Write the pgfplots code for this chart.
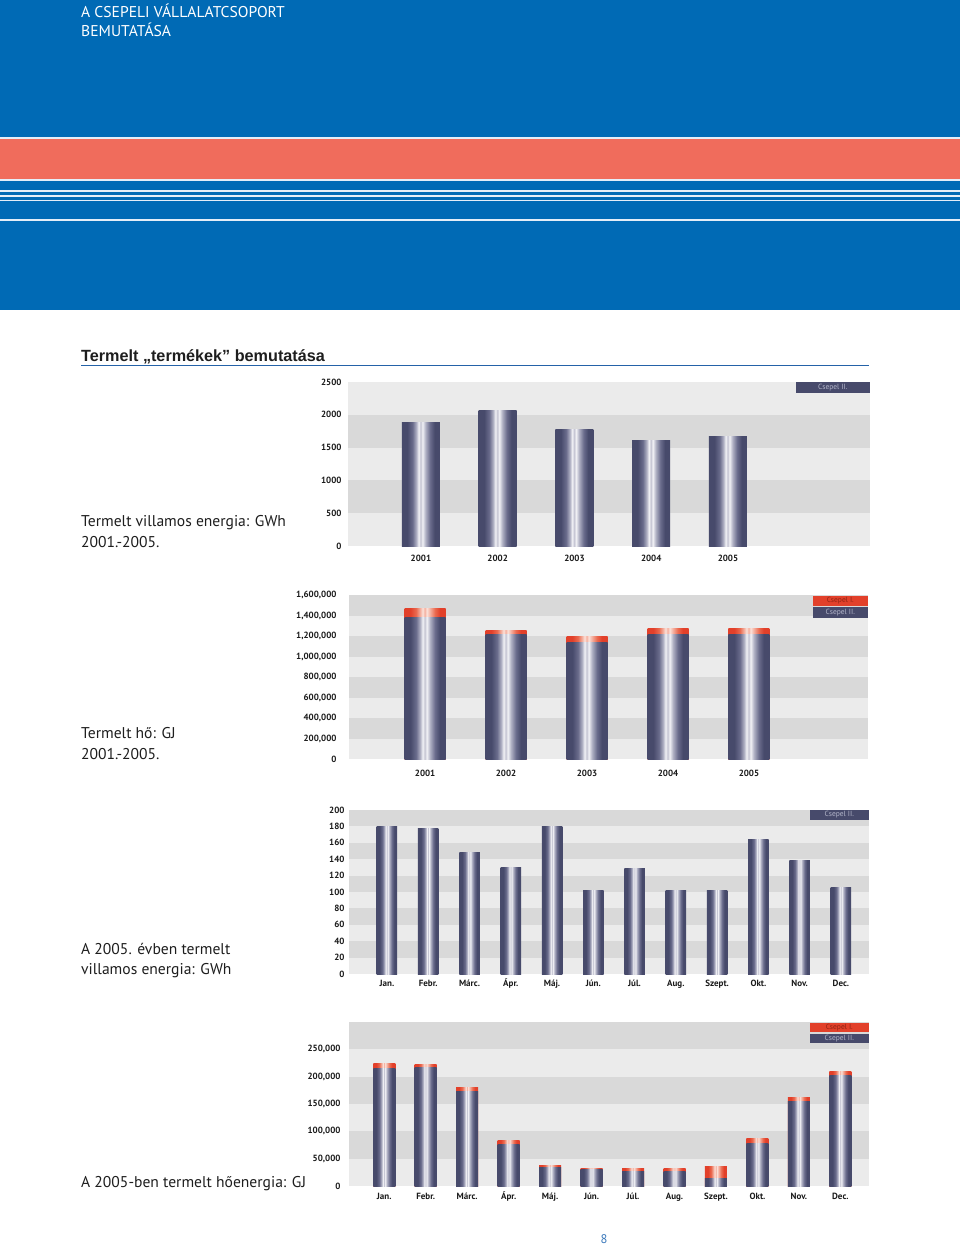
\documentclass[border=0pt]{standalone}
\usepackage{pgfplots}
\pgfplotsset{compat=1.18}
\usepackage{fontspec}
\setmainfont{PT Sans}
\newfontfamily\titlefont{Liberation Sans}
\definecolor{hblue}{HTML}{006AB5}
\definecolor{salmon}{HTML}{F06C5C}
\definecolor{hline}{HTML}{E4EEF8}
\definecolor{bandL}{HTML}{EBEBEB}
\definecolor{bandD}{HTML}{D9D9D9}
\definecolor{slD}{HTML}{474A6B}
\definecolor{slM}{HTML}{6A6C8C}
\definecolor{slL}{HTML}{B0B1C4}
\definecolor{slL2}{HTML}{C4C4D2}
\definecolor{hiW}{HTML}{F2F2F6}
\definecolor{rD}{HTML}{E2402A}
\definecolor{rM}{HTML}{EA6A50}
\definecolor{rL}{HTML}{F4B0A0}
\definecolor{hiR}{HTML}{FBE2DA}
\definecolor{tickc}{HTML}{1A1A1A}
\definecolor{legTS}{HTML}{B4B6CA}
\definecolor{legTR}{HTML}{8E2414}
\definecolor{titleline}{HTML}{2462A8}
\definecolor{pnum}{HTML}{3A78BB}
\definecolor{bodytext}{HTML}{1E1E1E}
\pgfdeclarehorizontalshading{cylS}{100bp}{color(0bp)=(slD); color(25bp)=(slD); color(32bp)=(slD); color(39bp)=(slM); color(44bp)=(slL); color(47bp)=(hiW); color(49.5bp)=(slL2); color(52bp)=(hiW); color(56bp)=(slL); color(62bp)=(slM); color(68bp)=(slD); color(75bp)=(slD); color(100bp)=(slD)}
\pgfdeclarehorizontalshading{cylR}{100bp}{color(0bp)=(rD); color(25bp)=(rD); color(32bp)=(rD); color(39bp)=(rM); color(44bp)=(rL); color(47bp)=(hiR); color(49.5bp)=(rL); color(52bp)=(hiR); color(56bp)=(rL); color(62bp)=(rM); color(68bp)=(rD); color(75bp)=(rD); color(100bp)=(rD)}
\newcommand\sbar[3]{\addplot[ybar, bar shift=0pt, bar width=#3, draw=none, shading=cylS] coordinates {(#1,#2)};}
\newcommand\rbar[3]{\addplot[ybar, bar shift=0pt, bar width=#3, draw=none, shading=cylR] coordinates {(#1,#2)};}
\pgfplotsset{
  pg/.style={
    scale only axis, anchor=south west,
    axis line style={draw=none}, major tick length=0pt, tick style={draw=none},
    axis background/.style={fill=bandL},
    ymin=0, clip=true,
    tick label style={font=\fontsize{9}{10}\selectfont\bfseries, text=tickc},
    /pgf/number format/assume math mode=true,
    /pgf/number format/fixed,
    /pgf/number format/precision=0,
    /pgf/number format/1000 sep={,},
    scaled y ticks=false,
  },
}
\tikzset{
  legS/.style={fill=slD, text=legTS, font=\fontsize{7.5}{8}\selectfont, inner sep=0pt, anchor=north east},
  legR/.style={fill=rD, text=legTR, font=\fontsize{7.5}{8}\selectfont, inner sep=0pt, anchor=north east},
  body/.style={anchor=base west, inner sep=0pt, text=bodytext, font=\fontsize{15.6}{18}\selectfont},
}
\begin{document}
\begin{tikzpicture}
\useasboundingbox (0pt,0pt) rectangle (960pt,-1246pt);
\fill[white] (0pt,0pt) rectangle (960pt,-1246pt);
\begin{scope}[x=1pt,y=-1pt]
\fill[hblue] (0,0) rectangle (960,310);
\fill[hline] (0,137) rectangle (960,181);
\fill[salmon] (0,139) rectangle (960,179);
\fill[hline] (0,190) rectangle (960,191.7);
\fill[hline] (0,195.2) rectangle (960,196.8);
\fill[hline] (0,199.8) rectangle (960,201.5);
\fill[hline] (0,219.5) rectangle (960,221);
\node[anchor=base west, inner sep=0pt, text=white, font=\fontsize{15.6}{18}\selectfont] at (81,17.5) {A CSEPELI VÁLLALATCSOPORT};
\node[anchor=base west, inner sep=0pt, text=white, font=\fontsize{15.6}{18}\selectfont] at (81,36.8) {BEMUTATÁSA};
\node[anchor=base west, inner sep=0pt, text=bodytext, font=\titlefont\fontsize{16.2}{18}\selectfont\bfseries] at (81,361.7) {Termelt „termékek” bemutatása};
\draw[titleline, line width=1.5pt] (81,365.4) -- (869,365.4);
\node[body] at (81,526.5) {Termelt villamos energia: GWh};
\node[body] at (81,547.5) {2001.-2005.};
\node[body] at (81,738.5) {Termelt hő: GJ};
\node[body] at (81,759.5) {2001.-2005.};
\node[body] at (81,954) {A 2005. évben termelt};
\node[body] at (81,974.5) {villamos energia: GWh};
\node[body] at (81,1187.5) {A 2005-ben termelt hőenergia: GJ};
\node[anchor=base, inner sep=0pt, text=pnum, font=\fontsize{12.5}{14}\selectfont] at (604,1243.3) {8};
\end{scope}

% Chart 1
\begin{axis}[pg, at={(348pt,-546pt)}, width=522pt, height=164pt,
  xmin=-0.95, xmax=5.85, ymax=2500, ytick={0,500,1000,1500,2000,2500},
  /pgf/number format/1000 sep={},
  xtick={0,1,2,3,4}, xticklabels={2001,2002,2003,2004,2005},
  yticklabel style={xshift=-3pt}, xticklabel style={anchor=base, yshift=-15.7pt}]
\fill[bandD] (rel axis cs:0,0.2) rectangle (rel axis cs:1,0.4);
\fill[bandD] (rel axis cs:0,0.6) rectangle (rel axis cs:1,0.8);
\sbar{0}{1885}{38pt}
\sbar{1}{2059}{38pt}
\sbar{2}{1780}{38pt}
\sbar{3}{1607}{38pt}
\sbar{4}{1663}{38pt}
\node[legS, minimum width=74pt, minimum height=10.5pt] at (rel axis cs:1,1) {Csepel II.};
\end{axis}

% Chart 2
\begin{axis}[pg, at={(349pt,-759pt)}, width=519pt, height=164pt,
  xmin=-0.94, xmax=5.47, ymax=1600000,
  ytick={0,200000,400000,600000,800000,1000000,1200000,1400000,1600000},
  xtick={0,1,2,3,4}, xticklabels={2001,2002,2003,2004,2005},
  yticklabel style={xshift=-9pt}, xticklabel style={anchor=base, yshift=-17.7pt}]
\fill[bandD] (rel axis cs:0,0.125) rectangle (rel axis cs:1,0.25);
\fill[bandD] (rel axis cs:0,0.375) rectangle (rel axis cs:1,0.5);
\fill[bandD] (rel axis cs:0,0.625) rectangle (rel axis cs:1,0.75);
\fill[bandD] (rel axis cs:0,0.875) rectangle (rel axis cs:1,1);
\rbar{0}{1470000}{41pt}
\sbar{0}{1385000}{41pt}
\rbar{1}{1252000}{41pt}
\sbar{1}{1210000}{41pt}
\rbar{2}{1197000}{41pt}
\sbar{2}{1141000}{41pt}
\rbar{3}{1275000}{41pt}
\sbar{3}{1210000}{41pt}
\rbar{4}{1275000}{41pt}
\sbar{4}{1210000}{41pt}
\node[legR, minimum width=55pt, minimum height=10.5pt, yshift=-0.5pt] at (rel axis cs:1,1) {Csepel I.};
\node[legS, minimum width=55pt, minimum height=11pt, yshift=-12pt] at (rel axis cs:1,1) {Csepel II.};
\end{axis}

% Chart 3
\begin{axis}[pg, at={(349pt,-974pt)}, width=520pt, height=164pt,
  xmin=-0.92, xmax=11.68, ymax=200,
  ytick={0,20,40,60,80,100,120,140,160,180,200},
  xtick={0,...,11}, xticklabels={Jan.,Febr.,Márc.,Ápr.,Máj.,Jún.,Júl.,Aug.,Szept.,Okt.,Nov.,Dec.},
  yticklabel style={xshift=-1pt}, xticklabel style={anchor=base, yshift=-12.7pt}]
\fill[bandD] (rel axis cs:0,0.1) rectangle (rel axis cs:1,0.2);
\fill[bandD] (rel axis cs:0,0.3) rectangle (rel axis cs:1,0.4);
\fill[bandD] (rel axis cs:0,0.5) rectangle (rel axis cs:1,0.6);
\fill[bandD] (rel axis cs:0,0.7) rectangle (rel axis cs:1,0.8);
\fill[bandD] (rel axis cs:0,0.9) rectangle (rel axis cs:1,1);
\sbar{0}{180}{20.5pt}
\sbar{1}{178}{20.5pt}
\sbar{2}{148}{20.5pt}
\sbar{3}{130}{20.5pt}
\sbar{4}{180}{20.5pt}
\sbar{5}{102}{20.5pt}
\sbar{6}{128.5}{20.5pt}
\sbar{7}{102}{20.5pt}
\sbar{8}{102}{20.5pt}
\sbar{9}{164}{20.5pt}
\sbar{10}{139}{20.5pt}
\sbar{11}{105}{20.5pt}
\node[legS, minimum width=59pt, minimum height=9.5pt] at (rel axis cs:1,1) {Csepel II.};
\end{axis}

% Chart 4
\begin{axis}[pg, at={(349pt,-1186pt)}, width=520pt, height=164pt,
  xmin=-0.85, xmax=11.69, ymax=300000,
  ytick={0,50000,100000,150000,200000,250000},
  xtick={0,...,11}, xticklabels={Jan.,Febr.,Márc.,Ápr.,Máj.,Jún.,Júl.,Aug.,Szept.,Okt.,Nov.,Dec.},
  yticklabel style={xshift=-5pt}, xticklabel style={anchor=base, yshift=-13.3pt}]
\fill[bandD] (rel axis cs:0,0.16667) rectangle (rel axis cs:1,0.33333);
\fill[bandD] (rel axis cs:0,0.5) rectangle (rel axis cs:1,0.66667);
\fill[bandD] (rel axis cs:0,0.83333) rectangle (rel axis cs:1,1);
\rbar{0}{224400}{22pt}
\sbar{0}{215200}{22pt}
\rbar{1}{222600}{22pt}
\sbar{1}{217000}{22pt}
\rbar{2}{179900}{22pt}
\sbar{2}{173800}{22pt}
\rbar{3}{82900}{22pt}
\sbar{3}{76200}{22pt}
\rbar{4}{37800}{22pt}
\sbar{4}{33500}{22pt}
\rbar{5}{31700}{22pt}
\sbar{5}{29300}{22pt}
\rbar{6}{31700}{22pt}
\sbar{6}{26200}{22pt}
\rbar{7}{31700}{22pt}
\sbar{7}{26200}{22pt}
\rbar{8}{36000}{22pt}
\sbar{8}{14000}{22pt}
\rbar{9}{86600}{22pt}
\sbar{9}{78000}{22pt}
\rbar{10}{161600}{22pt}
\sbar{10}{155500}{22pt}
\rbar{11}{209100}{22pt}
\sbar{11}{201800}{22pt}
\node[legR, minimum width=59pt, minimum height=8.5pt, yshift=-1pt] at (rel axis cs:1,1) {Csepel I.};
\node[legS, minimum width=59pt, minimum height=9pt, yshift=-12pt] at (rel axis cs:1,1) {Csepel II.};
\end{axis}
\end{tikzpicture}
\end{document}
